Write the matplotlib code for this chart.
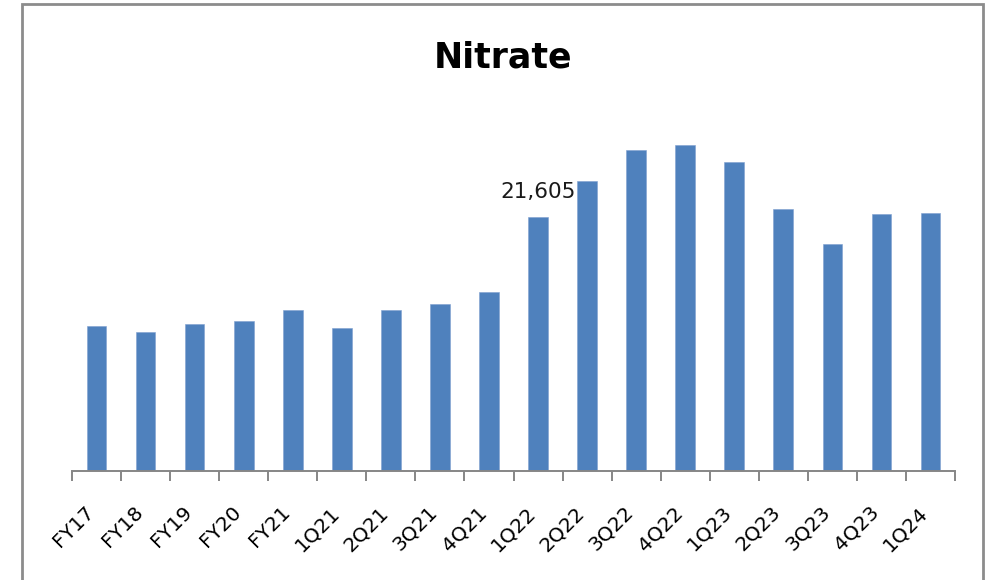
import matplotlib
matplotlib.use("Agg")
import matplotlib.pyplot as plt
from matplotlib.patches import Rectangle
from matplotlib.transforms import ScaledTranslation
import numpy as np

categories = ["FY17", "FY18", "FY19", "FY20", "FY21", "1Q21", "2Q21", "3Q21", "4Q21",
              "1Q22", "2Q22", "3Q22", "4Q22", "1Q23", "2Q23", "3Q23", "4Q23", "1Q24"]
values = [12315, 11804, 12486, 12768, 13653, 12120, 13653, 14190, 15188,
          21605, 24674, 27290, 27742, 26318, 22287, 19330, 21836, 21946]
labeled_index = 9
title = "Nitrate"

plt.rcParams['font.family'] = ['DejaVu Sans']

W, H = 985, 580
fig = plt.figure(figsize=(W / 100, H / 100), dpi=100)

base_px = 470.5
left_px, right_px = 72, 955
ymax = 30000
px_per_unit = 253.5 / 21605
top_px = base_px - ymax * px_per_unit
ax = fig.add_axes([left_px / W, 1 - base_px / H, (right_px - left_px) / W, (base_px - top_px) / H])

x = np.arange(len(categories))
ax.bar(x, values, width=0.4, color="#4F81BD", edgecolor="#7FA0D0", linewidth=0.4, zorder=2)
ax.set_xlim(-0.5, len(categories) - 0.5)
ax.set_ylim(0, ymax)

for s in ["top", "right", "left"]:
    ax.spines[s].set_visible(False)
ax.spines["bottom"].set_color("#868686")
ax.spines["bottom"].set_linewidth(1.4)
ax.set_yticks([])

ax.set_xticks(x)
ax.set_xticklabels(categories, rotation=45, ha="right", va="center", rotation_mode="anchor", fontsize=14.5)
ax.tick_params(axis="x", which="major", length=0, pad=28)
offset = ScaledTranslation(-4 / 72, 0, fig.dpi_scale_trans)
for lbl in ax.get_xticklabels():
    lbl.set_transform(lbl.get_transform() + offset)
ax.set_xticks(np.arange(-0.5, len(categories), 1.0), minor=True)
ax.tick_params(axis="x", which="minor", length=7, width=1.4, color="#868686", direction="out")

v = values[labeled_index]
ax.annotate(f"{v:,.0f}", xy=(labeled_index, v), xytext=(0, 13.5), textcoords="offset points",
            ha="center", va="baseline", fontsize=15.5, color="#1a1a1a")

fig.text(503 / W, 1 - 67 / H, title, ha="center", va="baseline", fontsize=25, fontweight="bold")

fig.patches.append(Rectangle((22 / W, -0.1), (983 - 22) / W, 1.1 - 4 / H, transform=fig.transFigure,
                             fill=False, edgecolor="#8c8c8c", linewidth=2.0, clip_on=False))

fig.savefig("out.png", dpi=100)
